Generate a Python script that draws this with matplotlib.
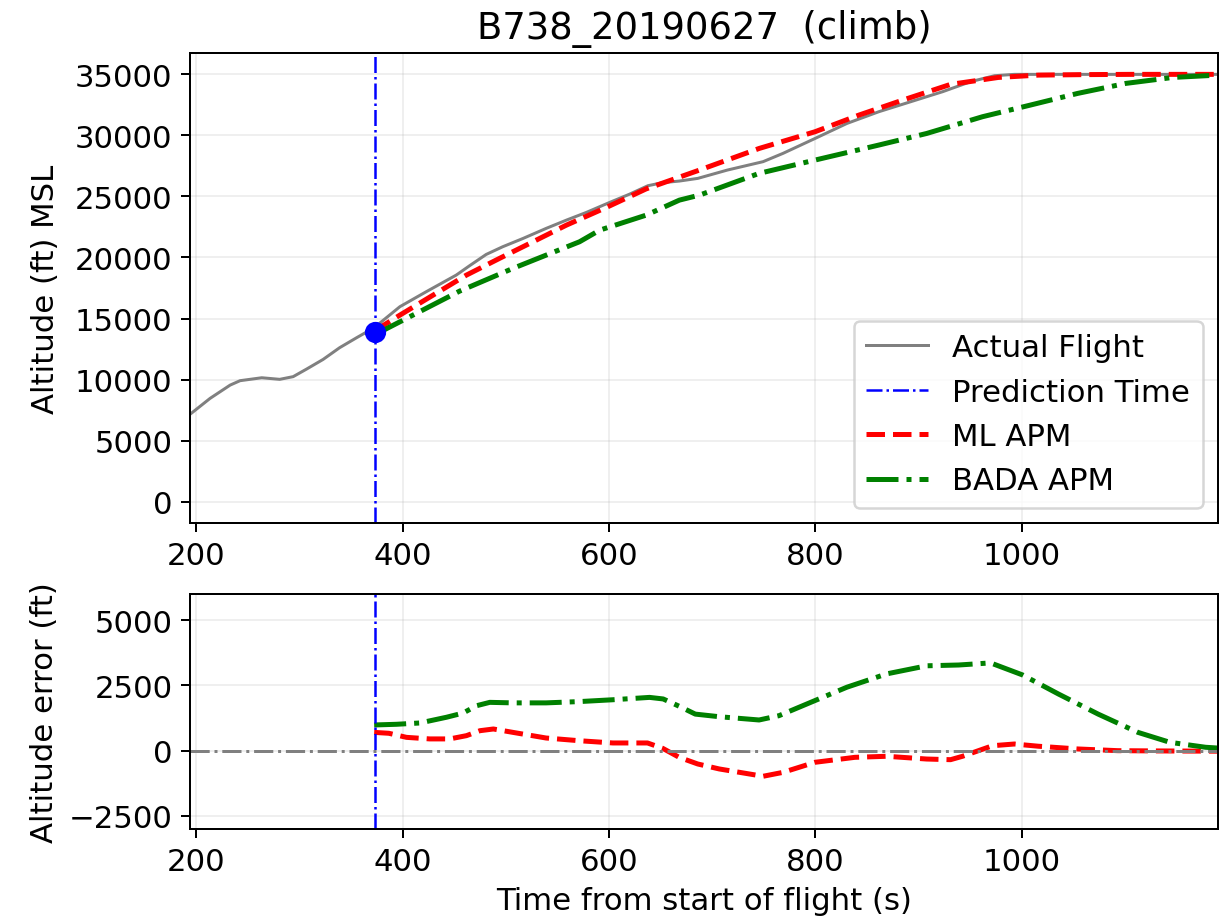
import matplotlib
matplotlib.use('Agg')
import matplotlib.pyplot as plt

# prediction time (s) and altitude at that time
pred_time = 373
pred_alt = 13900

# actual flight track
actual_t = [194, 213.5, 233, 242.6, 263.6, 281, 294, 307, 323, 339, 355.5, 372.5,
            397.4, 423, 452, 465, 481, 497, 516.7, 539, 558.7, 578, 600.6, 620,
            637.7, 652, 668, 686, 714.6, 749.3, 768.6, 799.6, 830.5, 861.4, 892.3,
            923.2, 950.3, 973.5, 992.7, 1050, 1100, 1150, 1190]
actual_alt = [7150, 8460, 9550, 9910, 10150, 10020, 10240, 10860, 11650, 12610, 13430, 14250,
              15970, 17200, 18560, 19330, 20250, 20880, 21560, 22380, 23060, 23690, 24510, 25190,
              25880, 26130, 26260, 26480, 27160, 27850, 28530, 29750, 30980, 31940, 32760,
              33580, 34400, 34890, 35000, 35000, 35000, 35000, 35000]

# ML APM prediction
ml_t = [372.5, 397.4, 429.6, 461.9, 494, 526.4, 558.7, 597.4, 636, 687.6, 745.4, 799.6,
        842, 884.5, 930.9, 977.3, 1016, 1060, 1106, 1150, 1190]
ml_alt = [13970, 15280, 16920, 18560, 19930, 21290, 22650, 24100, 25620, 27160, 28930, 30300,
          31660, 32890, 34180, 34750, 34940, 34980, 35000, 35000, 35000]

# BADA APM prediction
bada_t = [372.5, 410, 455.4, 507, 571.5, 591, 636, 668.2, 687.7, 745.4, 799.6, 861.4,
          907.8, 961.8, 1008, 1054, 1100.7, 1146.4, 1190]
bada_alt = [13650, 15280, 17250, 19110, 21290, 22240, 23470, 24700, 25110, 26890, 27980, 29210,
            30160, 31530, 32480, 33440, 34260, 34750, 34940]

# altitude errors
ml_err_t = [372.5, 386.7, 403.8, 426.3, 445.7, 461.9, 475, 488, 507, 539, 571.5, 603.8,
            637.3, 652, 668, 686, 706.8, 749.3, 768.6, 799.6, 838.2, 869, 907.8, 930.9,
            942.5, 971.6, 992.7, 1015.9, 1054.4, 1093, 1131.7, 1190]
ml_err = [700, 666, 510, 450, 450, 575, 765, 830, 700, 485, 380, 295,
          295, 90, -255, -510, -700, -980, -830, -445, -255, -215, -320, -345,
          -215, 190, 255, 170, 65, 0, -10, -20]

bada_err_t = [372.5, 394, 416.7, 442.6, 458.6, 471.6, 484.5, 507, 539, 571.5, 603.8, 639.3,
              652.5, 668, 683.6, 706.8, 745.4, 764.7, 791.8, 830.5, 869, 907.8, 938.7,
              969.7, 1000.6, 1035.4, 1073.9, 1112.5, 1143.4, 1178, 1190]
bada_err = [984, 1010, 1060, 1280, 1440, 1720, 1850, 1830, 1830, 1880, 1950, 2040,
            1980, 1700, 1400, 1300, 1175, 1340, 1790, 2430, 2940, 3250, 3280,
            3360, 2900, 2170, 1400, 700, 320, 130, 100]

alt_ticks = [0, 5000, 10000, 15000, 20000, 25000, 30000, 35000]
err_ticks = [-2500, 0, 2500, 5000]

plt.rcParams['font.size'] = 12.3
fig = plt.figure(figsize=(1223 / 180, 920 / 180), dpi=180)
ax1 = fig.add_axes([0.1553, 0.4304, 0.8406, 0.5109])
ax2 = fig.add_axes([0.1553, 0.0978, 0.8406, 0.2555])

ax1.plot(actual_t, actual_alt, color='gray', lw=1.2, label='Actual Flight')
ax1.axvline(pred_time, color='blue', ls='-.', lw=1, label='Prediction Time')
ax1.plot(ml_t, ml_alt, color='red', ls='--', lw=2, label='ML APM')
ax1.plot(bada_t, bada_alt, color='green', ls='-.', lw=2, label='BADA APM')
ax1.plot([pred_time], [pred_alt], 'o', color='blue', ms=7.5)
ax1.set_xlim(194, 1190)
ax1.set_ylim(-1750, 36750)
ax1.set_yticks(alt_ticks)
ax1.set_ylabel('Altitude (ft) MSL', labelpad=6)
ax1.set_title('B738_20190627  (climb)')
ax1.grid(True, alpha=0.2)
ax1.legend(loc='lower right')

ax2.plot(ml_err_t, ml_err, color='red', ls='--', lw=2)
ax2.plot(bada_err_t, bada_err, color='green', ls='-.', lw=2)
ax2.axhline(0, color='gray', ls='-.', lw=1.2)
ax2.axvline(pred_time, color='blue', ls='-.', lw=1)
ax2.set_xlim(194, 1190)
ax2.set_ylim(-3000, 6000)
ax2.set_yticks(err_ticks)
ax2.set_ylabel('Altitude error (ft)')
ax2.set_xlabel('Time from start of flight (s)')
ax2.grid(True, alpha=0.2)

fig.savefig('out.png', dpi=180)
